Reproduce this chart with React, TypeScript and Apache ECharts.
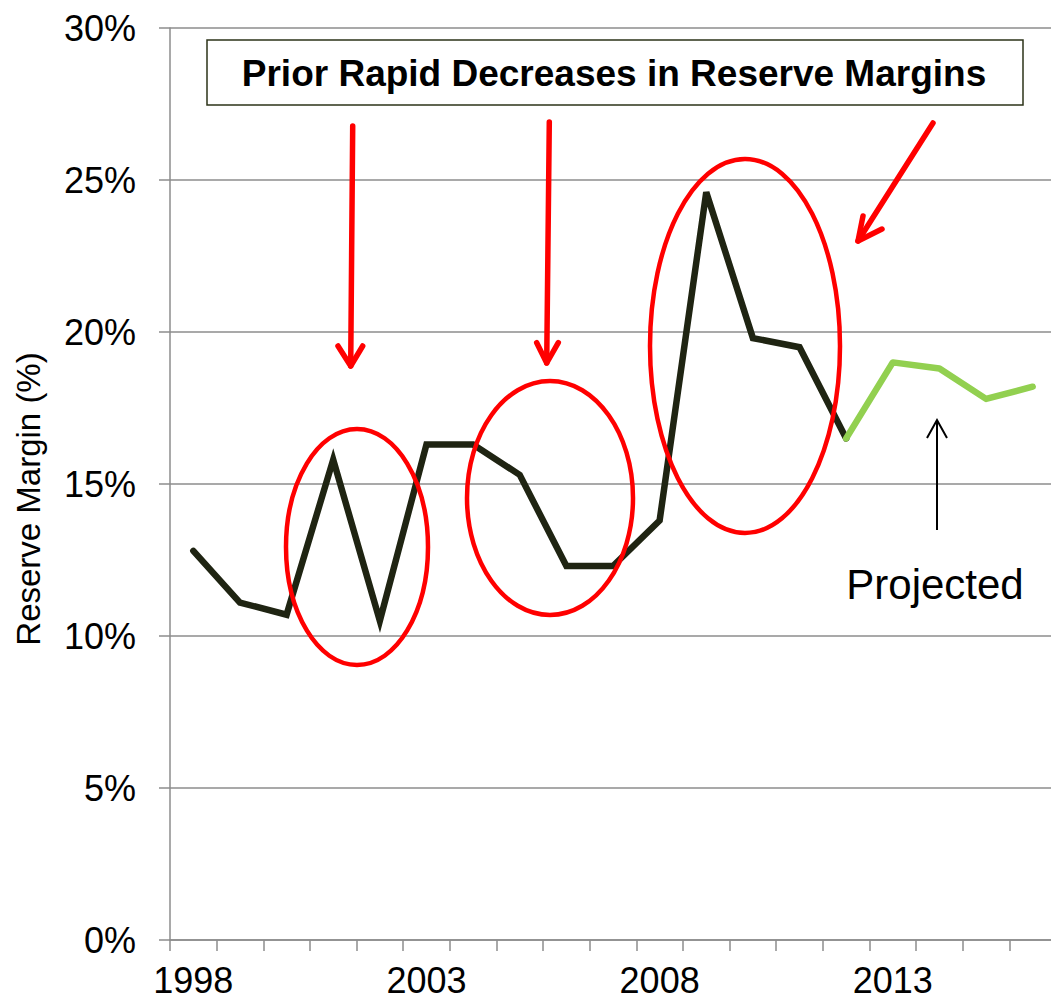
import React, { useEffect, useRef } from "react";
import * as echarts from "echarts";

const years = [
  "1998", "1999", "2000", "2001", "2002", "2003", "2004", "2005", "2006", "2007",
  "2008", "2009", "2010", "2011", "2012", "2013", "2014", "2015", "2016",
];
const historical = [
  12.8, 11.1, 10.7, 15.8, 10.5, 16.3, 16.3, 15.3, 12.3, 12.3,
  13.8, 24.6, 19.8, 19.5, 16.5, null, null, null, null,
];
const projected = [
  null, null, null, null, null, null, null, null, null, null,
  null, null, null, null, 16.5, 19.0, 18.8, 17.8, 18.2,
];
const yTicks = [0, 5, 10, 15, 20, 25, 30];
const titleText = "Prior Rapid Decreases in Reserve Margins";
const projectedText = "Projected";
const yAxisTitle = "Reserve Margin (%)";

const FONT = "'Liberation Sans', Arial, Helvetica, sans-serif";
const RED = "#ff0000";
const GRID_GRAY = "#8c8c8c";

export default function App() {
  const ref = useRef<HTMLDivElement>(null);

  useEffect(() => {
    document.body.style.margin = "0";
    if (!ref.current) return;
    const chart = echarts.init(ref.current, undefined, { renderer: "svg" });

    const redArrow = (x1: number, y1: number, x2: number, y2: number, a1: number[], a2: number[]) => [
      {
        type: "line",
        shape: { x1, y1, x2, y2 },
        style: { stroke: RED, lineWidth: 5.5, lineCap: "round" },
        z: 100,
      },
      {
        type: "polyline",
        shape: { points: [a1, [x2, y2], a2] },
        style: { stroke: RED, lineWidth: 5.5, lineCap: "round", lineJoin: "round", fill: "none" },
        z: 100,
      },
    ];

    const ellipse = (cx: number, cy: number, rx: number, ry: number) => ({
      type: "ellipse",
      shape: { cx, cy, rx, ry },
      style: { stroke: RED, lineWidth: 4.5, fill: "none" },
      z: 100,
    });

    chart.setOption({
      animation: false,
      backgroundColor: "#ffffff",
      grid: {
        left: 170,
        top: 28,
        width: 886,
        height: 912,
        containLabel: false,
        outerBoundsMode: "none",
      },
      xAxis: {
        type: "category",
        data: years,
        boundaryGap: true,
        axisLine: { show: true, lineStyle: { color: GRID_GRAY, width: 1.5 } },
        axisTick: { show: true, interval: 0, length: 11, lineStyle: { color: GRID_GRAY, width: 1.5 } },
        axisLabel: {
          interval: 4,
          color: "#000",
          fontSize: 36,
          fontFamily: FONT,
          margin: 22,
        },
        splitLine: { show: false },
      },
      yAxis: {
        type: "value",
        min: yTicks[0],
        max: yTicks[yTicks.length - 1],
        interval: 5,
        axisLine: { show: true, lineStyle: { color: GRID_GRAY, width: 1.5 } },
        axisTick: { show: true, length: 11, lineStyle: { color: GRID_GRAY, width: 1.5 } },
        axisLabel: {
          color: "#000",
          fontSize: 36,
          fontFamily: FONT,
          margin: 34,
          formatter: "{value}%",
        },
        splitLine: { show: true, lineStyle: { color: GRID_GRAY, width: 1.5 } },
      },
      series: [
        {
          name: "Historical",
          type: "line",
          data: historical,
          showSymbol: false,
          symbol: "none",
          connectNulls: false,
          lineStyle: { color: "#1f2412", width: 6.5, cap: "round", join: "miter" },
          itemStyle: { color: "#1f2412" },
          z: 3,
        },
        {
          name: "Projected",
          type: "line",
          data: projected,
          showSymbol: false,
          symbol: "none",
          connectNulls: false,
          lineStyle: { color: "#92d050", width: 6.5, cap: "round", join: "round" },
          itemStyle: { color: "#92d050" },
          z: 4,
        },
      ],
      graphic: [
        {
          type: "text",
          x: 28,
          y: 499,
          rotation: Math.PI / 2,
          style: {
            text: yAxisTitle,
            fontSize: 33,
            fontFamily: FONT,
            fill: "#000",
            align: "center",
            verticalAlign: "middle",
          },
          z: 100,
        },
        {
          type: "rect",
          shape: { x: 207, y: 40, width: 816, height: 65 },
          style: { fill: "#ffffff", stroke: "#2d3319", lineWidth: 1.5 },
          z: 90,
        },
        {
          type: "text",
          x: 614,
          y: 73,
          style: {
            text: titleText,
            fontSize: 37,
            fontWeight: "bold",
            fontFamily: FONT,
            fill: "#000",
            align: "center",
            verticalAlign: "middle",
          },
          z: 95,
        },
        ellipse(357, 547, 71, 118),
        ellipse(550, 498, 83, 117),
        ellipse(745, 346, 95, 187),
        ...redArrow(352.7, 126, 350.7, 366, [338, 346], [362.7, 346]),
        ...redArrow(549.3, 122, 546.7, 363, [536.7, 342.7], [558.3, 342.7]),
        ...redArrow(933, 123, 858, 241, [863, 216], [882, 229]),
        {
          type: "line",
          shape: { x1: 937, y1: 530, x2: 937, y2: 420 },
          style: { stroke: "#000", lineWidth: 2 },
          z: 100,
        },
        {
          type: "polyline",
          shape: { points: [[927, 438], [937, 420], [947, 438]] },
          style: { stroke: "#000", lineWidth: 2, fill: "none" },
          z: 100,
        },
        {
          type: "text",
          x: 935,
          y: 584,
          style: {
            text: projectedText,
            fontSize: 42,
            fontFamily: FONT,
            fill: "#000",
            align: "center",
            verticalAlign: "middle",
          },
          z: 100,
        },
      ],
    });

    return () => {
      chart.dispose();
    };
  }, []);

  return (
    <div
      ref={ref}
      style={{ position: "absolute", left: 0, top: 0, width: 1051, height: 1000 }}
    />
  );
}
